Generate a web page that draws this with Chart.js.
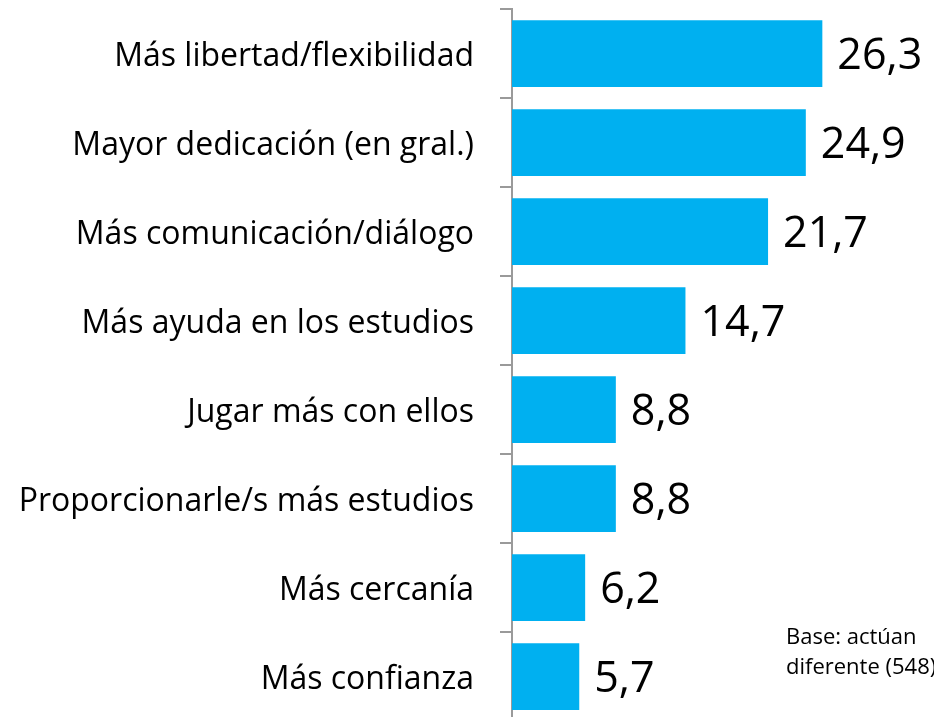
<!DOCTYPE html>
<html>
<head>
<meta charset="utf-8">
<script src="https://cdn.jsdelivr.net/npm/chart.js@4/dist/chart.umd.min.js"></script>
<style>
  html, body { margin: 0; padding: 0; background: #fff; overflow: hidden; }
  #wrap { position: relative; width: 934px; height: 730px; }
</style>
</head>
<body>
<div id="wrap"><canvas id="barChart" width="934" height="730"></canvas></div>
<script>
const categories = [
    'Más libertad/flexibilidad',
    'Mayor dedicación (en gral.)',
    'Más comunicación/diálogo',
    'Más ayuda en los estudios',
    'Jugar más con ellos',
    'Proporcionarle/s más estudios',
    'Más cercanía',
    'Más confianza'
];
const values = [26.3, 24.9, 21.7, 14.7, 8.8, 8.8, 6.2, 5.7];
const footnote = ['Base: actúan', 'diferente (548)'];

const fontFamily = '"Open Sans", "Noto Sans", sans-serif';

// big value labels next to each bar, plus the base note in the corner
const valueLabels = {
    id: 'valueLabels',
    afterDatasetsDraw(chart) {
        const ctx = chart.ctx;
        const meta = chart.getDatasetMeta(0);
        ctx.save();
        ctx.fillStyle = '#000';
        ctx.font = '43px ' + fontFamily;
        ctx.textBaseline = 'middle';
        ctx.textAlign = 'left';
        meta.data.forEach((bar, i) => {
            ctx.fillText(values[i].toFixed(1).replace('.', ','), bar.x + 15, bar.y + 3);
        });
        ctx.font = '22px ' + fontFamily;
        ctx.fillText(footnote[0], 786, 638);
        ctx.fillText(footnote[1], 786, 668);
        ctx.restore();
    }
};

const barChartElement = document.getElementById('barChart');

const config = {
    type: 'bar',
    data: {
        labels: categories,
        datasets: [{
            data: values,
            backgroundColor: '#00B0F0',
            borderWidth: 0,
            categoryPercentage: 1,
            barPercentage: 0.75
        }]
    },
    options: {
        indexAxis: 'y',
        responsive: false,
        animation: false,
        layout: { padding: { top: 9, bottom: 9, right: 68, left: 0 } },
        plugins: {
            legend: { display: false },
            tooltip: { enabled: false }
        },
        scales: {
            x: {
                display: false,
                min: 0,
                max: 30
            },
            y: {
                afterFit(scale) {
                    scale.width = 512;
                    // labels sit inside their bands, no extra room needed above/below
                    scale.paddingTop = 0;
                    scale.paddingBottom = 0;
                },
                border: { display: true, color: '#9a9a9a', width: 2 },
                grid: {
                    offset: true,
                    drawOnChartArea: false,
                    drawTicks: true,
                    tickLength: 12,
                    color: '#9a9a9a',
                    lineWidth: 2
                },
                ticks: {
                    color: '#000',
                    padding: 26,
                    labelOffset: 3,
                    font: { family: fontFamily, size: 32 }
                }
            }
        }
    },
    plugins: [valueLabels]
};

let barchart = new Chart(barChartElement, config);
</script>
</body>
</html>
